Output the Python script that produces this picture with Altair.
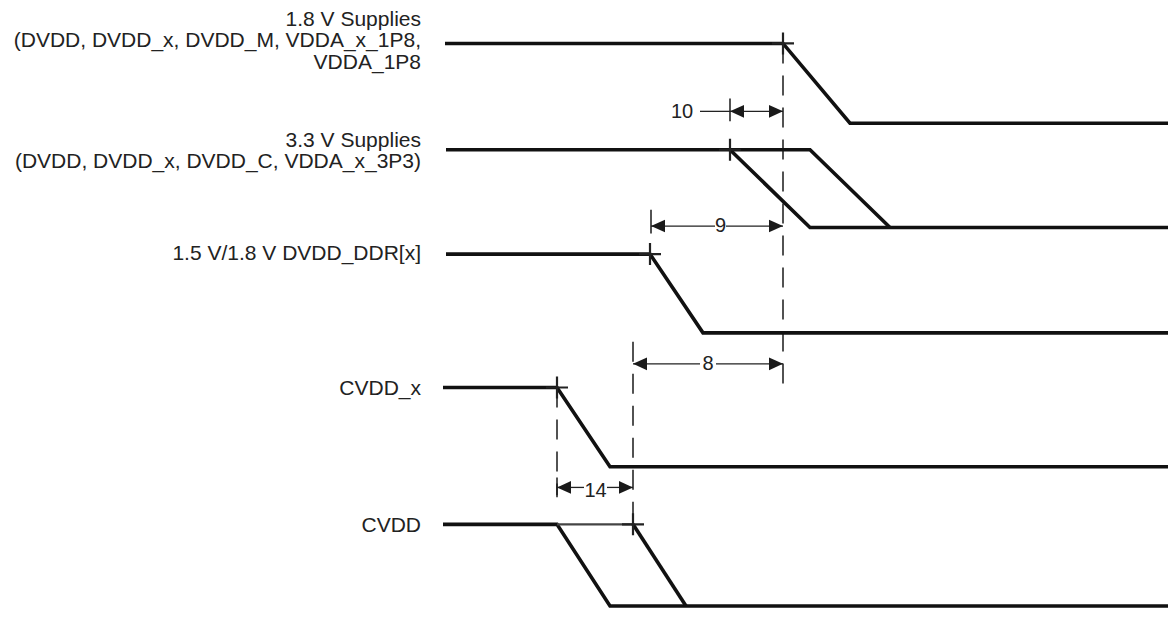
import altair as alt
import pandas as pd

# ---------------- data (diagram time units / level units) ----------------
# Waveform paths: time points and levels
p18_t = [445, 783, 850, 1176]
p18_v = [44, 44, 125, 125]

p33a_t = [446, 810, 890]
p33a_v = [152, 152, 231]
p33b_t = [730, 810, 1176]
p33b_v = [152, 231, 231]

pddr_t = [446, 650, 703, 1176]
pddr_v = [258, 258, 338, 338]

pcvx_t = [443, 557, 610, 1176]
pcvx_v = [393.5, 393.5, 474, 474]

pcv_t = [443, 557, 610, 1176]
pcv_v = [532.5, 532.5, 615.5, 615.5]
pcvb_t = [633, 686]
pcvb_v = [532.5, 615.5]

# thin connecting segment on CVDD
thin_t = [557, 633]
thin_v = [532.5, 532.5]

# transition markers (+)
cross_t = [783, 730, 650, 557, 633]
cross_v = [44, 152, 258, 393.5, 532.5]

# dashed reference lines
dash_t = [783, 633, 557]
dash_v1 = [44, 347, 393.5]
dash_v2 = [395, 540, 503]

# solid extension ticks
tick_t = [730, 651, 557]
tick_v1 = [100, 213, 485]
tick_v2 = [123, 237, 505]

# timing dimensions
dim_label = ["10", "9", "8", "14"]
dim_start = [730, 651, 633, 557]
dim_end = [783, 783, 783, 633]
dim_level = [113, 229.5, 369.5, 495]
dim_text_t = [682, 720.5, 708, 595.5]
dim_text_v = [113.5, 229.5, 370, 499]
# dimension line segments (gaps around the numbers)
seg_t1 = [700, 730, 651, 726, 633, 716, 557, 607]
seg_t2 = [730, 783, 715, 783, 700, 783, 584, 633]
seg_v = [113, 113, 229.5, 229.5, 369.5, 369.5, 495, 495]

# signal names
label_text = [
    "1.8 V Supplies",
    "(DVDD, DVDD_x, DVDD_M, VDDA_x_1P8,",
    "VDDA_1P8",
    "3.3 V Supplies",
    "(DVDD, DVDD_x, DVDD_C, VDDA_x_3P3)",
    "1.5 V/1.8 V DVDD_DDR[x]",
    "CVDD_x",
    "CVDD",
]
label_t = [421] * 8
label_v = [20.5, 42, 63.5, 143, 164.5, 258, 395, 534]

# ---------------- build tables ----------------
paths = {
    "p18": (p18_t, p18_v),
    "p33a": (p33a_t, p33a_v),
    "p33b": (p33b_t, p33b_v),
    "pddr": (pddr_t, pddr_v),
    "pcvx": (pcvx_t, pcvx_v),
    "pcv": (pcv_t, pcv_v),
    "pcvb": (pcvb_t, pcvb_v),
}
rows = []
for pid, (ts, vs) in paths.items():
    for i, (t, v) in enumerate(zip(ts, vs)):
        rows.append({"pid": pid, "i": i, "t": t, "v": v})
wave_df = pd.DataFrame(rows)
thin_df = pd.DataFrame({"t": thin_t, "v": thin_v, "i": [0, 1]})
cross_df = pd.DataFrame({"t": cross_t, "v": cross_v})
dash_df = pd.DataFrame({"t": dash_t, "v": dash_v1, "v2": dash_v2})
tick_df = pd.DataFrame({"t": tick_t, "v": tick_v1, "v2": tick_v2})
seg_df = pd.DataFrame({"t": seg_t1, "t2": seg_t2, "v": seg_v})
left_df = pd.DataFrame({"t": dim_start, "v": dim_level})
right_df = pd.DataFrame({"t": dim_end, "v": dim_level})
dimtxt_df = pd.DataFrame({"t": dim_text_t, "v": dim_text_v, "txt": dim_label})
label_df = pd.DataFrame({"t": label_t, "v": label_v, "txt": label_text})

W, H = 1160, 601
xs = alt.Scale(domain=[8, 1168], zero=False, nice=False)
ys = alt.Scale(domain=[8, 618.5], zero=False, nice=False, reverse=True)
X = alt.X("t:Q", scale=xs, axis=None)
Y = alt.Y("v:Q", scale=ys, axis=None)

INK = "#111111"
FONT = "Liberation Sans"

waves = alt.Chart(wave_df).mark_line(
    color=INK, strokeWidth=3.6, strokeCap="butt", strokeJoin="miter", clip=True
).encode(x=X, y=Y, detail="pid:N", order="i:Q")

thin = alt.Chart(thin_df).mark_line(
    color="#444444", strokeWidth=2.2, strokeCap="butt"
).encode(x=X, y=Y, order="i:Q")

dashes = alt.Chart(dash_df).mark_rule(
    color="#1a1a1a", strokeWidth=1.5, strokeDash=[20, 12]
).encode(x=X, y=Y, y2="v2:Q")

ticks = alt.Chart(tick_df).mark_rule(color="#1a1a1a", strokeWidth=1.5).encode(
    x=X, y=Y, y2="v2:Q"
)

segs = alt.Chart(seg_df).mark_rule(color="#222222", strokeWidth=1.3).encode(
    x=X, x2="t2:Q", y=Y
)

ARROW_SIZE = 784
left_heads = alt.Chart(left_df).mark_point(
    shape="M0,0L1,-0.45L1,0.45Z", filled=True, size=ARROW_SIZE,
    color="#1a1a1a", opacity=1, strokeWidth=0
).encode(x=X, y=Y)
right_heads = alt.Chart(right_df).mark_point(
    shape="M0,0L-1,-0.45L-1,0.45Z", filled=True, size=ARROW_SIZE,
    color="#1a1a1a", opacity=1, strokeWidth=0
).encode(x=X, y=Y)

crosses = alt.Chart(cross_df).mark_point(
    shape="M-1,0L1,0M0,-1L0,1", filled=False, size=484,
    color="#222222", opacity=1, strokeWidth=2.2
).encode(x=X, y=Y)

dimtxt = alt.Chart(dimtxt_df).mark_text(
    font=FONT, fontSize=20, color="#222222", align="center", baseline="middle"
).encode(x=X, y=Y, text="txt:N")

labels = alt.Chart(label_df).mark_text(
    font=FONT, fontSize=21, color="#222222", align="right", baseline="middle"
).encode(x=X, y=Y, text="txt:N")

chart = alt.layer(
    dashes, ticks, segs, waves, thin, left_heads, right_heads, crosses, dimtxt, labels
).properties(
    width=W, height=H, padding=0, autosize=alt.AutoSizeParams(type="none"),
    background="white"
).configure_view(stroke=None)

chart.save("out.html", embed_options={"renderer": "svg", "actions": False})
